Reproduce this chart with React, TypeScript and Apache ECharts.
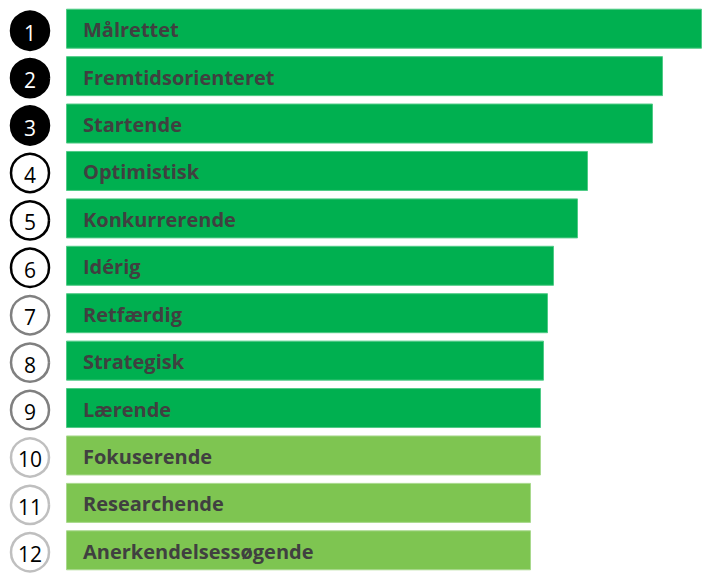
import React, { useEffect, useRef } from "react";
import * as echarts from "echarts";

const categories = [
  "Målrettet",
  "Fremtidsorienteret",
  "Startende",
  "Optimistisk",
  "Konkurrerende",
  "Idérig",
  "Retfærdig",
  "Strategisk",
  "Lærende",
  "Fokuserende",
  "Researchende",
  "Anerkendelsessøgende",
];
const values = [63.6, 59.7, 58.7, 52.2, 51.2, 48.8, 48.2, 47.8, 47.5, 47.5, 46.5, 46.5];
const ranks = ["1", "2", "3", "4", "5", "6", "7", "8", "9", "10", "11", "12"];
const tiers = [0, 0, 0, 1, 1, 1, 2, 2, 2, 3, 3, 3];

const barColors = ["#00B050", "#00B050", "#00B050", "#7EC551"];
const barBorders = ["#4FCB86", "#4FCB86", "#4FCB86", "#A9D98D"];
const circleFill = ["#000000", "#FFFFFF", "#FFFFFF", "#FFFFFF"];
const circleBorder = ["#000000", "#000000", "#808080", "#BFBFBF"];
const circleText = ["#FFFFFF", "#000000", "#000000", "#000000"];

export default function App() {
  const ref = useRef<HTMLDivElement>(null);
  useEffect(() => {
    document.body.style.margin = "0";
    const chart = echarts.init(ref.current!, undefined, { renderer: "svg" });
    const gridTop = 5;
    const gridHeight = 577;
    chart.setOption({
      animation: false,
      backgroundColor: "#FFFFFF",
      grid: [
        { left: 66, right: 0, top: gridTop, height: gridHeight },
        { left: 10, width: 40, top: gridTop, height: gridHeight },
      ],
      xAxis: [
        { type: "value", gridIndex: 0, min: 0, max: 63.6, show: false },
        { type: "value", gridIndex: 1, min: 0, max: 1, show: false },
      ],
      yAxis: [
        { type: "category", gridIndex: 0, data: categories, inverse: true, show: false },
        { type: "category", gridIndex: 1, data: ranks, inverse: true, show: false },
      ],
      series: [
        {
          type: "bar",
          xAxisIndex: 0,
          yAxisIndex: 0,
          barWidth: 40,
          data: values.map((v, i) => ({
            value: v,
            itemStyle: {
              color: barColors[tiers[i]],
              borderColor: barBorders[tiers[i]],
              borderWidth: 1,
            },
          })),
          label: {
            show: true,
            position: "insideLeft",
            distance: 17,
            offset: [0, 1],
            formatter: (p: any) => categories[p.dataIndex],
            color: "#404040",
            fontFamily: "Open Sans",
            fontWeight: "bold",
            fontSize: 20,
          },
        },
        {
          type: "scatter",
          xAxisIndex: 1,
          yAxisIndex: 1,
          symbol: "circle",
          symbolSize: 38,
          symbolOffset: [0, 2],
          data: ranks.map((r, i) => ({
            value: [0.5, r],
            itemStyle: {
              color: circleFill[tiers[i]],
              borderColor: circleBorder[tiers[i]],
              borderWidth: 2.5,
              opacity: 1,
            },
            label: { color: circleText[tiers[i]] },
          })),
          label: {
            show: true,
            position: "inside",
            offset: [0, 2],
            formatter: (p: any) => ranks[p.dataIndex],
            fontFamily: "Open Sans",
            fontSize: 21,
          },
        },
      ],
    });
    return () => chart.dispose();
  }, []);
  return (
    <div
      ref={ref}
      style={{ position: "fixed", left: 0, top: 0, width: 702, height: 574 }}
    />
  );
}
